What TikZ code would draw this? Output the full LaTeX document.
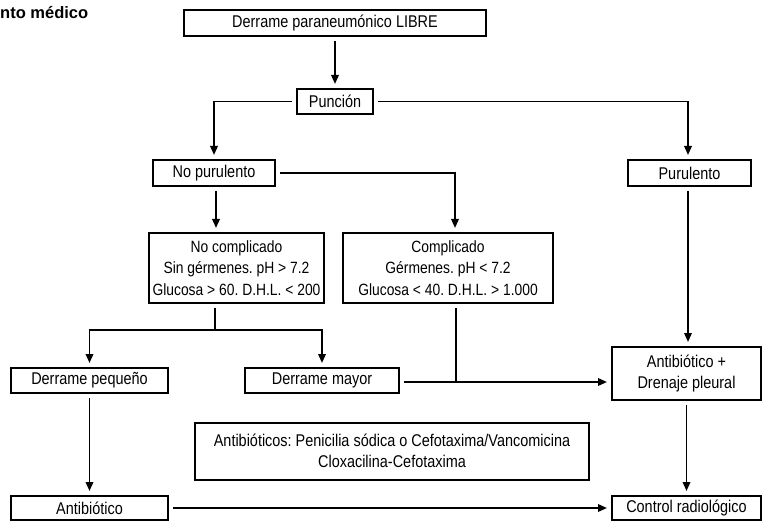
\documentclass[tikz,border=0pt]{standalone}
\usepackage{fontspec}
\setmainfont[FakeStretch=0.85]{Liberation Sans}
\newfontfamily\titlefont{Liberation Sans}
\usetikzlibrary{arrows.meta,positioning}
\frenchspacing

\tikzset{
    box/.style={draw, line width=2pt, align=center, inner sep=0pt, outer sep=5pt,
        font=\fontsize{17}{21.5}\selectfont},
    casebox/.style={box, minimum height=70pt, font=\fontsize{16.3}{21.5}\selectfont},
    arrow/.style={line width=1.8pt, -{Triangle[length=9pt,width=7.5pt]}},
    link/.style={line width=1.8pt}
}

\begin{document}
\begin{tikzpicture}[x=1pt, y=-1pt]
    \useasboundingbox (0,0) rectangle (763,521);

    % Cropped heading
    \node[anchor=west, font=\titlefont\bfseries\fontsize{16.5}{18}\selectfont, inner sep=0pt] (heading) at (0,13) {nto médico};

    % Top of the chart
    \node[box, minimum width=302pt, minimum height=26pt] (libre) at (335,23) {Derrame paraneumónico LIBRE};
    \node[box, minimum width=76pt, minimum height=25pt] (puncion) at (335,101.5) {Punción};

    % Second level
    \node[box, minimum width=122pt, minimum height=26pt] (nopur) at (214,173) {No purulento};
    \node[box, minimum width=123pt, minimum height=26pt] (pur) at (689.5,173) {Purulento};

    % Third level
    \node[casebox, minimum width=175pt] (nocomp) at (236.5,268)
        {No complicado\\Sin gérmenes. pH > 7.2\\Glucosa > 60. D.H.L. < 200};
    \node[casebox, minimum width=210pt] (comp) at (448,268)
        {Complicado\\Gérmenes. pH < 7.2\\Glucosa < 40. D.H.L. > 1.000};

    % Fourth level
    \node[box, minimum width=157pt, minimum height=25pt] (pequeno) at (89.5,380.5) {Derrame pequeño};
    \node[box, minimum width=154pt, minimum height=25pt] (mayor) at (322,380.5) {Derrame mayor};
    \node[box, minimum width=149pt, minimum height=53pt] (drenaje) at (686.5,373.5) {Antibiótico +\\Drenaje pleural};

    % Note on antibiotics
    \node[box, minimum width=394pt, minimum height=57pt] (nota) at (392,451)
        {Antibióticos: Penicilia sódica o Cefotaxima/Vancomicina\\Cloxacilina-Cefotaxima};

    % Bottom row
    \node[box, minimum width=157pt, minimum height=24pt] (antib) at (89.5,508) {Antibiótico};
    \node[box, minimum width=149pt, minimum height=24pt] (control) at (686.5,508) {Control radiológico};

    % Connectors
    \draw[arrow] (libre) -- (puncion);
    \draw[arrow] (puncion.west) -| (nopur.north);
    \draw[arrow] (puncion.east) -| ([xshift=-1.5pt]pur.north);
    \draw[arrow] ([xshift=2pt]nopur.south) -- ([xshift=2pt]nopur.south |- nocomp.north);
    \draw[arrow] (nopur.east) -| ([xshift=7pt]comp.north);

    % Split below the non complicated case
    \coordinate (split) at ([xshift=-21.5pt, yshift=-22pt]nocomp.south);
    \draw[link] ([xshift=-21.5pt]nocomp.south) -- (split);
    \draw[arrow] (split) -| (pequeno.north);
    \draw[arrow] (split) -| (mayor.north);

    % Complicated case joins the large effusion
    \coordinate (join) at ([xshift=8pt]comp.south |- mayor.east);
    \draw[arrow] ([yshift=-1.5pt]mayor.east) -- ([yshift=-1.5pt]mayor.east -| drenaje.west);
    \draw[link] ([xshift=8pt]comp.south) -- ([yshift=-1.5pt]join);

    \draw[arrow] ([xshift=-1.5pt]pur.south) -- ([xshift=-1.5pt]pur.south |- drenaje.north);
    \draw[arrow] (pequeno) -- (antib);
    \draw[arrow] (drenaje) -- (control);
    \draw[arrow] (antib) -- (control);
\end{tikzpicture}
\end{document}
